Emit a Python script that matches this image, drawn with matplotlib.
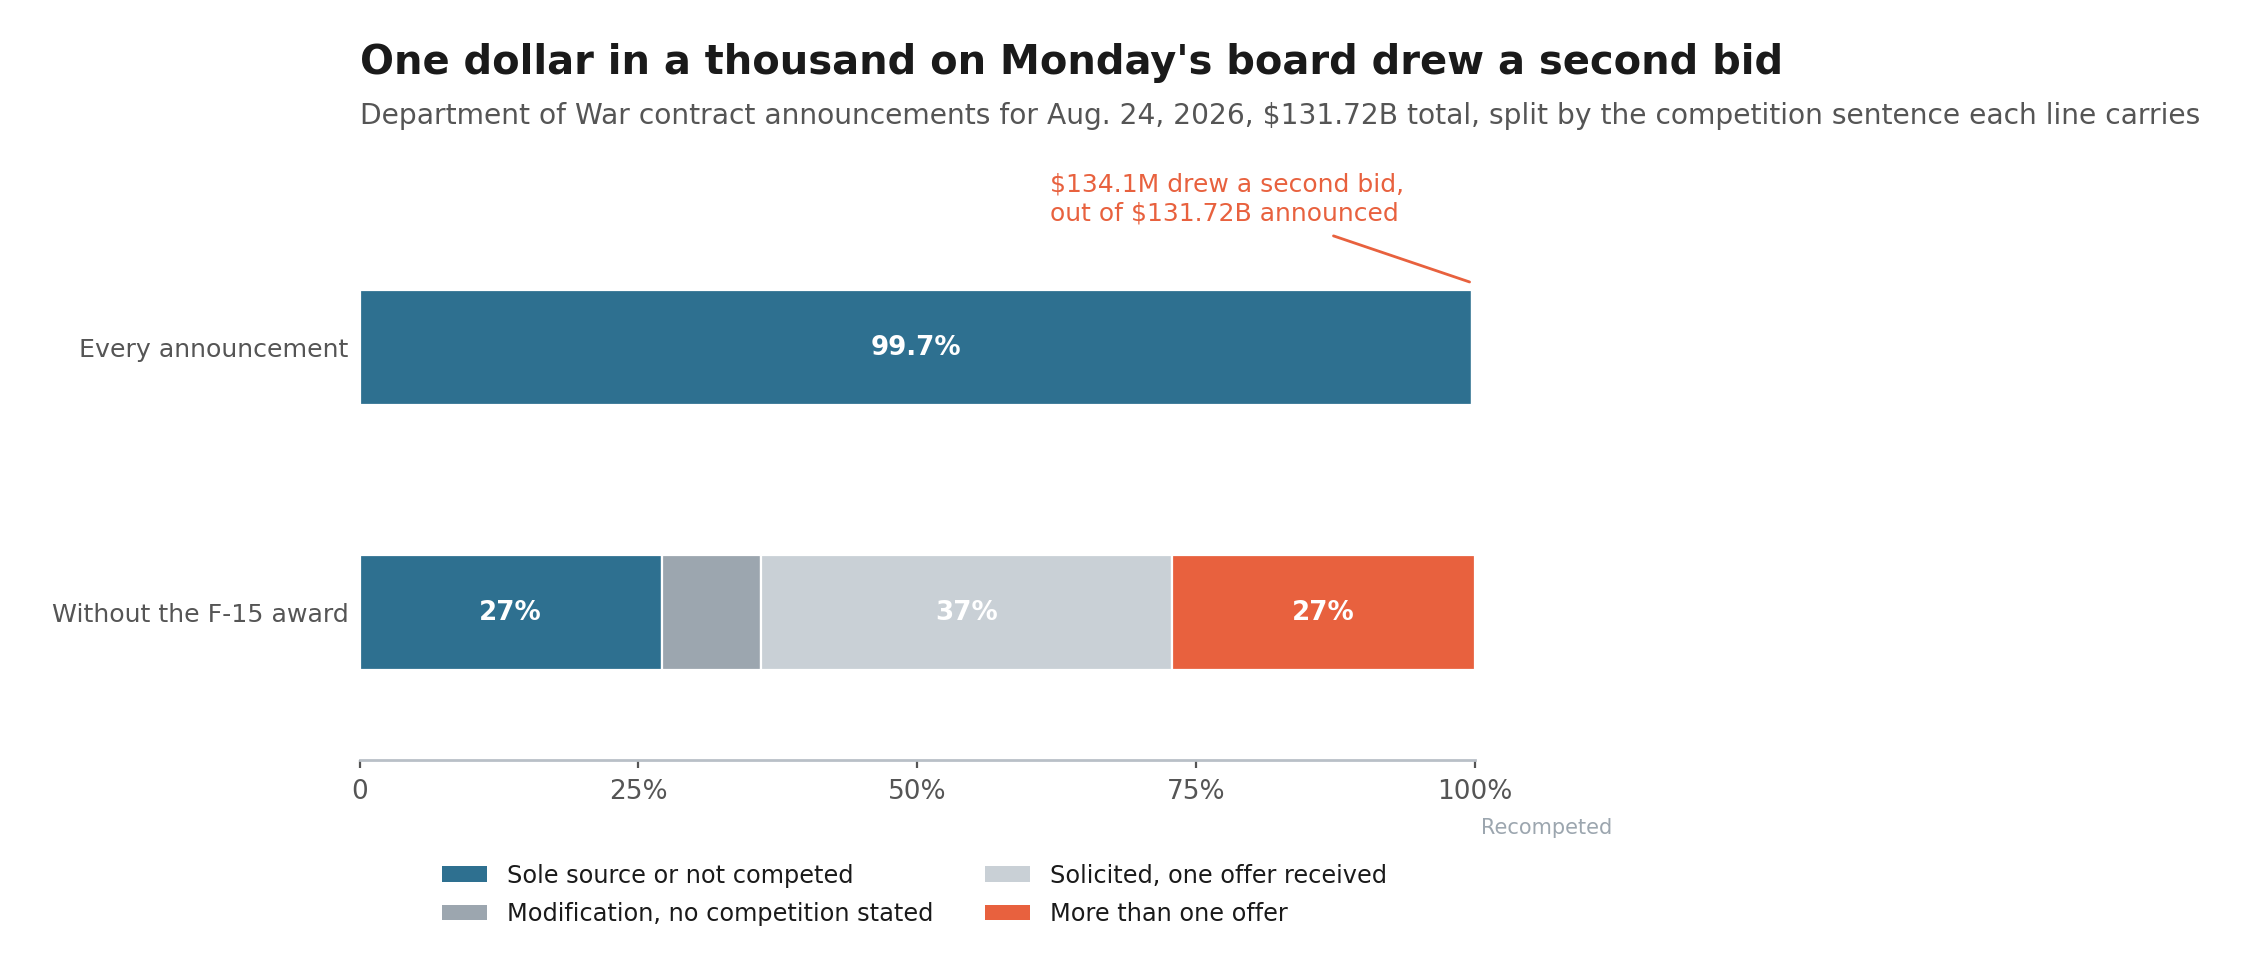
import numpy as np
import matplotlib
matplotlib.use("Agg")
import matplotlib.pyplot as plt
from matplotlib.patches import Patch

# rows, top to bottom
rows = ["Every announcement", "Without the F-15 award"]

# share of dollars per competition category (percent)
categories = ["Sole source or not competed",
              "Modification, no competition stated",
              "Solicited, one offer received",
              "More than one offer"]
sole = [99.7, 27.1]
modif = [0.1, 8.9]
solicited = [0.1, 36.8]
multi = [0.1, 27.2]
bar_labels = [["99.7%", "", "", ""], ["27%", "", "37%", "27%"]]

colors = ["#2e7090", "#9ca6af", "#c9d0d6", "#e8613e"]

plt.rcParams['font.family'] = ['DejaVu Sans']

fig = plt.figure(figsize=(11.235, 4.9), dpi=200)
ax = fig.add_axes([0.160, 0.2245, 0.4965, 0.5705])

y = np.array([1, 0])
left = np.zeros(2)
series = [sole, modif, solicited, multi]
for i, vals in enumerate(series):
    vals = np.array(vals)
    bars = ax.barh(y, vals, left=left, height=0.434, color=colors[i],
                   edgecolor="white", linewidth=0.8)
    for j, b in enumerate(bars):
        lab = bar_labels[j][i]
        if lab:
            ax.text(left[j] + vals[j] / 2, y[j], lab, ha="center", va="center",
                    color="white", fontsize=9.4, fontweight="bold")
    left = left + vals

ax.set_xlim(0, 100)
ax.set_ylim(-0.555, 1.555)
ax.set_yticks(y)
ax.set_yticklabels(rows, fontsize=9.1, color="#555555")
ax.tick_params(axis="y", length=0, pad=4)
ax.set_xticks([0, 25, 50, 75, 100])
ax.set_xticklabels(["0", "25%", "50%", "75%", "100%"], fontsize=9.5, color="#555555")
ax.tick_params(axis="x", length=3, width=0.8, color="#555555", pad=4)

for s in ["top", "right", "left"]:
    ax.spines[s].set_visible(False)
ax.spines["bottom"].set_color("#b9c0c7")
ax.spines["bottom"].set_linewidth(1.0)

# annotation
ax.text(61.9, 1.461, "$134.1M drew a second bid,\nout of $131.72B announced",
        ha="left", va="bottom", color="#e8613e", fontsize=9.0, linespacing=1.3)
ax.annotate("", xy=(99.5, 1.249), xytext=(87.3, 1.423),
            arrowprops=dict(arrowstyle="-", color="#e8613e", lw=1.0,
                            shrinkA=0, shrinkB=0))

ax.text(100.5, -0.81, "Recompeted", ha="left", va="center",
        fontsize=7.5, color="#9ca6af", clip_on=False)

# titles
fig.text(0.160, 0.936, "One dollar in a thousand on Monday's board drew a second bid",
         ha="left", va="center", fontsize=14.4, fontweight="bold", color="#1a1a1a")
fig.text(0.160, 0.882, "Department of War contract announcements for Aug. 24, 2026, "
         "$131.72B total, split by the competition sentence each line carries",
         ha="left", va="center", fontsize=10.15, color="#555555")

handles = [Patch(facecolor=c, edgecolor="none") for c in colors]
fig.legend(handles, categories, loc="center left", bbox_to_anchor=(0.187, 0.087),
           ncol=2, frameon=False, fontsize=8.65, handlelength=1.9, handleheight=0.6,
           handletextpad=0.8, columnspacing=2.15, labelspacing=0.6,
           labelcolor="#1a1a1a")

fig.savefig("out.png", dpi=200)
